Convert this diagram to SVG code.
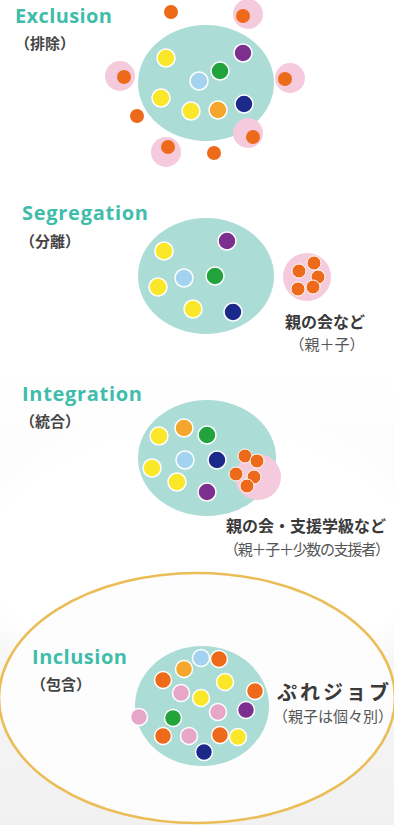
<svg xmlns="http://www.w3.org/2000/svg" width="394" height="825" viewBox="0 0 394 825">
<defs>
<style>
.ttl{font-family:"Open Sans",Lato,"Noto Sans",sans-serif;font-weight:700;font-size:20px;fill:#3fbdab}
.sub{font-family:"Noto Sans CJK JP","Noto Sans",sans-serif;font-weight:700;font-size:15px;fill:#444}
.lbl{font-family:"Noto Sans CJK JP","Noto Sans",sans-serif;font-weight:700;font-size:16px;fill:#3a3a3a}
.note{font-family:"Noto Sans CJK JP","Noto Sans",sans-serif;font-weight:400;font-size:15px;fill:#555}
.big{fill:#acdcd6}
.halo{fill:#f6cadd}
.d{stroke:#fff;stroke-width:1.5}
.s{stroke:#fff;stroke-width:1}
.y{fill:#fbe72a}.p{fill:#7d2f8f}.g{fill:#22a33c}.lb{fill:#a3d3ef}.a{fill:#f4a62e}.n{fill:#1b2a8a}.o{fill:#ee6a1b}.k{fill:#e6a6c8}
</style>
<linearGradient id="bg" x1="0" y1="0" x2="0" y2="1">
<stop offset="0" stop-color="#ffffff"/>
<stop offset="0.45" stop-color="#ffffff"/>
<stop offset="1" stop-color="#f1f1f1"/>
</linearGradient>
<filter id="soft" x="-20%" y="-20%" width="140%" height="140%"><feGaussianBlur stdDeviation="12"/></filter>
</defs>
<rect width="394" height="825" fill="url(#bg)"/>
<ellipse cx="200" cy="560" rx="230" ry="140" fill="#ffffff" filter="url(#soft)"/>

<g id="exclusion">
<text class="ttl" x="15" y="23" textLength="97">Exclusion</text>
<text class="sub" x="15" y="49">（排除）</text>
<ellipse class="big" cx="206" cy="83" rx="68" ry="58"/>
<circle class="halo" cx="248" cy="14" r="15"/>
<circle class="halo" cx="120" cy="76" r="15"/>
<circle class="halo" cx="290" cy="78" r="15"/>
<circle class="halo" cx="248" cy="133" r="15"/>
<circle class="halo" cx="166" cy="152" r="15"/>
<circle class="o" cx="171" cy="12" r="7"/>
<circle class="o" cx="243" cy="16" r="7"/>
<circle class="o" cx="124" cy="77" r="7"/>
<circle class="o" cx="285" cy="79" r="7"/>
<circle class="o" cx="137" cy="116" r="7"/>
<circle class="o" cx="253" cy="137" r="7"/>
<circle class="o" cx="168" cy="147" r="7"/>
<circle class="o" cx="214" cy="153" r="7"/>
<circle class="d y" cx="166" cy="58" r="9"/>
<circle class="d p" cx="243" cy="53" r="9"/>
<circle class="d g" cx="220" cy="71" r="9"/>
<circle class="d lb" cx="199" cy="81" r="9"/>
<circle class="d y" cx="161" cy="98" r="9"/>
<circle class="d y" cx="191" cy="111" r="9"/>
<circle class="d a" cx="218" cy="110" r="9"/>
<circle class="d n" cx="244" cy="104" r="9"/>
</g>

<g id="segregation">
<text class="ttl" x="22" y="220" textLength="126">Segregation</text>
<text class="sub" x="20" y="247">（分離）</text>
<ellipse class="big" cx="206" cy="276" rx="68" ry="58"/>
<circle class="d p" cx="227" cy="241" r="9"/>
<circle class="d y" cx="164" cy="251" r="9"/>
<circle class="d lb" cx="184" cy="278" r="9"/>
<circle class="d g" cx="215" cy="276" r="9"/>
<circle class="d y" cx="158" cy="287" r="9"/>
<circle class="d y" cx="193" cy="309" r="9"/>
<circle class="d n" cx="233" cy="312" r="9"/>
<circle class="halo" cx="307" cy="277" r="24"/>
<circle class="s o" cx="314" cy="263" r="7"/>
<circle class="s o" cx="299" cy="271" r="7"/>
<circle class="s o" cx="318" cy="277" r="7"/>
<circle class="s o" cx="313" cy="287" r="7"/>
<circle class="s o" cx="298" cy="289" r="7"/>
<text class="lbl" x="325" y="328" text-anchor="middle">親の会など</text>
<text class="note" x="327" y="350" text-anchor="middle">（親＋子）</text>
</g>

<g id="integration">
<text class="ttl" x="22" y="401" textLength="120">Integration</text>
<text class="sub" x="20" y="427">（統合）</text>
<ellipse class="big" cx="207" cy="458" rx="69" ry="58"/>
<circle class="halo" cx="258" cy="477" r="23"/>
<circle class="d y" cx="159" cy="436" r="9"/>
<circle class="d a" cx="184" cy="428" r="9"/>
<circle class="d g" cx="207" cy="435" r="9"/>
<circle class="d lb" cx="185" cy="460" r="9"/>
<circle class="d n" cx="217" cy="460" r="9"/>
<circle class="d y" cx="152" cy="468" r="9"/>
<circle class="d y" cx="177" cy="482" r="9"/>
<circle class="d p" cx="207" cy="492" r="9"/>
<circle class="s o" cx="245" cy="456" r="7"/>
<circle class="s o" cx="257" cy="461" r="7"/>
<circle class="s o" cx="236" cy="474" r="7"/>
<circle class="s o" cx="254" cy="477" r="7"/>
<circle class="s o" cx="247" cy="486" r="7"/>
<text class="lbl" x="306" y="532" text-anchor="middle">親の会・支援学級など</text>
<text class="note" x="307" y="555" text-anchor="middle" textLength="166">（親＋子＋少数の支援者）</text>
</g>

<g id="inclusion">
<ellipse cx="197" cy="698" rx="198" ry="125" fill="#fdfdfd" stroke="#ebbd57" stroke-width="2.5"/>
<text class="ttl" x="32" y="664" textLength="95">Inclusion</text>
<text class="sub" x="31" y="690">（包含）</text>
<ellipse class="big" cx="202" cy="706" rx="67" ry="60"/>
<circle class="d lb" cx="201" cy="658" r="8.5"/>
<circle class="d o" cx="219" cy="659" r="8.5"/>
<circle class="d a" cx="184" cy="669" r="8.5"/>
<circle class="d o" cx="163" cy="680" r="8.5"/>
<circle class="d y" cx="225" cy="682" r="8.5"/>
<circle class="d k" cx="181" cy="693" r="8.5"/>
<circle class="d y" cx="201" cy="698" r="8.5"/>
<circle class="d o" cx="255" cy="691" r="8.5"/>
<circle class="d p" cx="246" cy="710" r="8.5"/>
<circle class="d k" cx="218" cy="712" r="8.5"/>
<circle class="d k" cx="139" cy="717" r="8.5"/>
<circle class="d g" cx="173" cy="718" r="8.5"/>
<circle class="d o" cx="163" cy="736" r="8.5"/>
<circle class="d k" cx="189" cy="736" r="8.5"/>
<circle class="d o" cx="220" cy="735" r="8.5"/>
<circle class="d y" cx="238" cy="737" r="8.5"/>
<circle class="d n" cx="204" cy="752" r="8.5"/>
<text class="lbl" x="277" y="700" style="font-size:20px;letter-spacing:3px">ぷれジョブ</text>
<text class="note" x="273" y="722">（親子は個々別）</text>
</g>
</svg>
